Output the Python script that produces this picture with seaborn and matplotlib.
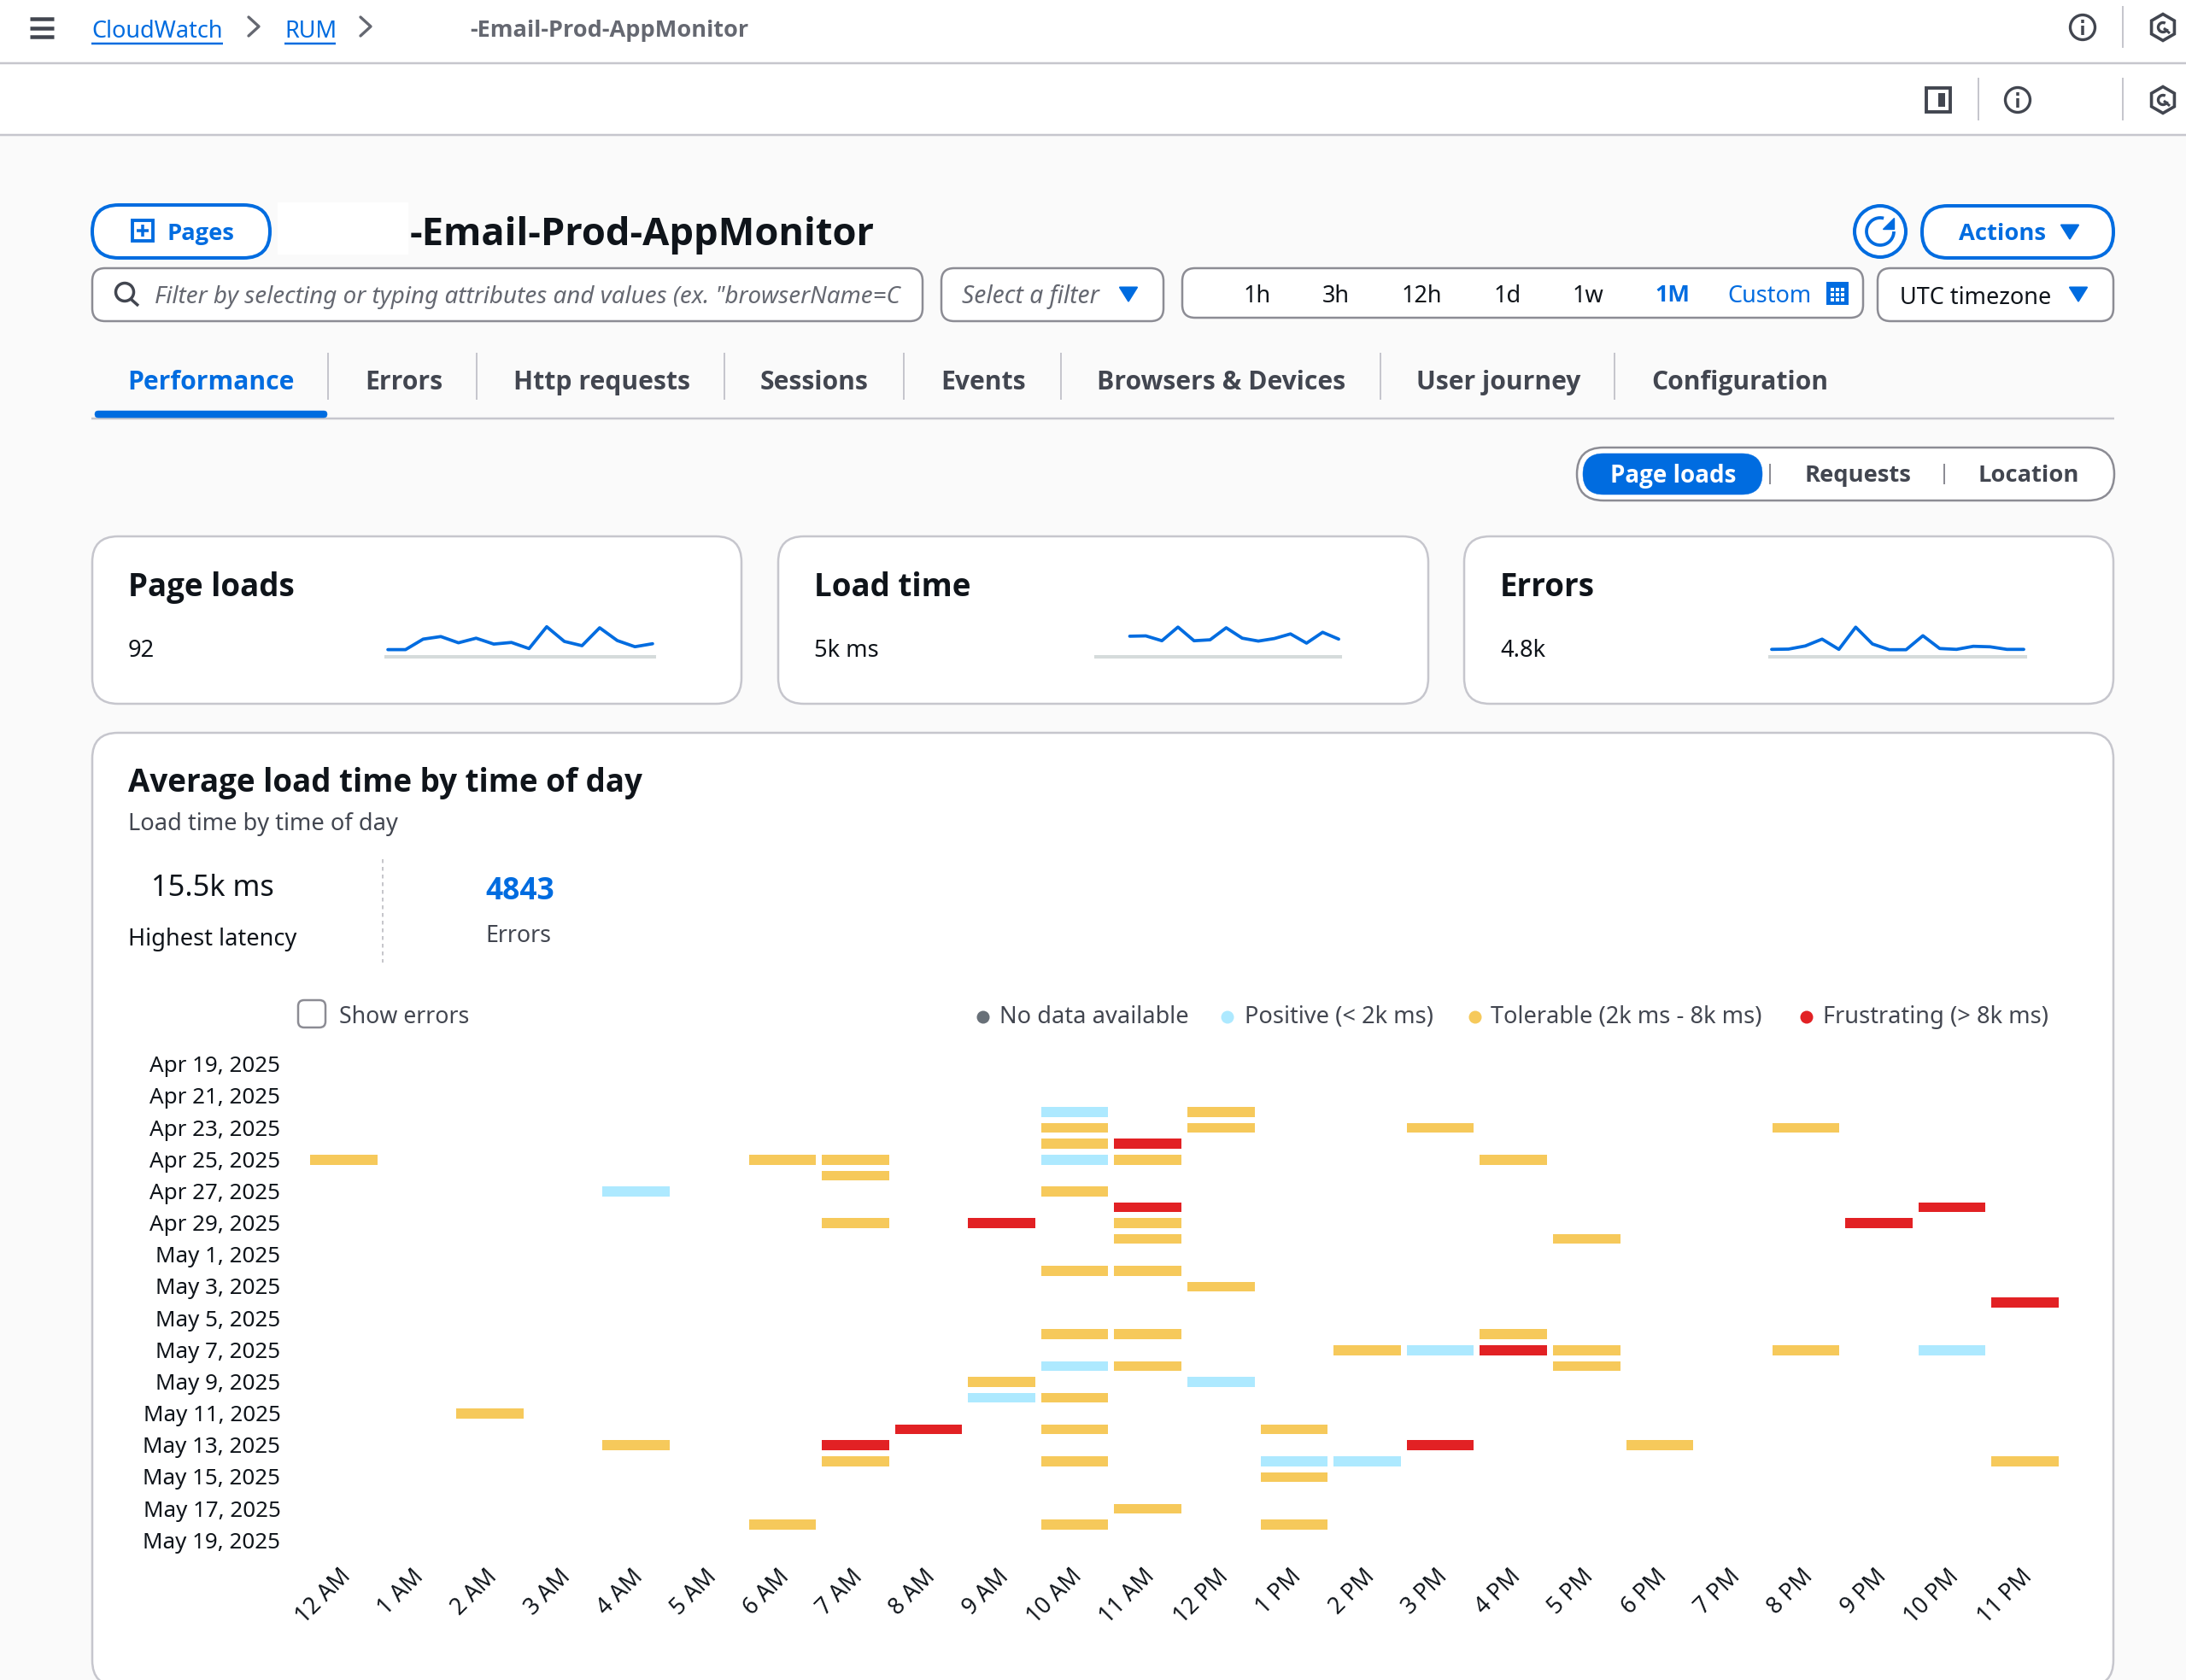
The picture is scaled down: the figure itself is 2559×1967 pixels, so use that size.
import numpy as np
import pandas as pd
import matplotlib
matplotlib.use("Agg")
import matplotlib.pyplot as plt
import seaborn as sns
from matplotlib.colors import ListedColormap
from matplotlib.patches import Circle, FancyBboxPatch, Polygon, Rectangle, RegularPolygon, Arc
from matplotlib.transforms import ScaledTranslation

# -----------------------------------------------------------
# data
# -----------------------------------------------------------
hours = ["12 AM", "1 AM", "2 AM", "3 AM", "4 AM", "5 AM", "6 AM", "7 AM", "8 AM", "9 AM", "10 AM", "11 AM",
         "12 PM", "1 PM", "2 PM", "3 PM", "4 PM", "5 PM", "6 PM", "7 PM", "8 PM", "9 PM", "10 PM", "11 PM"]
days = [f"{d:%b} {d.day}" for d in pd.date_range("2025-04-19", "2025-05-19")]

positive = [("Apr 22", "10 AM"), ("Apr 25", "10 AM"), ("Apr 27", "4 AM"), ("May 7", "3 PM"), ("May 7", "10 PM"),
            ("May 8", "10 AM"), ("May 9", "12 PM"), ("May 10", "9 AM"), ("May 14", "1 PM"), ("May 14", "2 PM")]
tolerable = [("Apr 22", "12 PM"), ("Apr 23", "10 AM"), ("Apr 23", "12 PM"), ("Apr 23", "3 PM"), ("Apr 23", "8 PM"),
             ("Apr 24", "10 AM"), ("Apr 25", "12 AM"), ("Apr 25", "6 AM"), ("Apr 25", "7 AM"), ("Apr 25", "11 AM"),
             ("Apr 25", "4 PM"), ("Apr 26", "7 AM"), ("Apr 27", "10 AM"), ("Apr 29", "7 AM"), ("Apr 29", "11 AM"),
             ("Apr 30", "11 AM"), ("Apr 30", "5 PM"), ("May 2", "10 AM"), ("May 2", "11 AM"), ("May 3", "12 PM"),
             ("May 6", "10 AM"), ("May 6", "11 AM"), ("May 6", "4 PM"), ("May 7", "2 PM"), ("May 7", "5 PM"),
             ("May 7", "8 PM"), ("May 8", "11 AM"), ("May 8", "5 PM"), ("May 9", "9 AM"), ("May 10", "10 AM"),
             ("May 11", "2 AM"), ("May 12", "10 AM"), ("May 12", "1 PM"), ("May 13", "4 AM"), ("May 13", "6 PM"),
             ("May 14", "7 AM"), ("May 14", "10 AM"), ("May 14", "11 PM"), ("May 15", "1 PM"), ("May 17", "11 AM"),
             ("May 18", "6 AM"), ("May 18", "10 AM"), ("May 18", "1 PM")]
frustrating = [("Apr 24", "11 AM"), ("Apr 28", "11 AM"), ("Apr 28", "10 PM"), ("Apr 29", "9 AM"), ("Apr 29", "9 PM"),
               ("May 4", "11 PM"), ("May 7", "4 PM"), ("May 12", "8 AM"), ("May 13", "7 AM"), ("May 13", "3 PM")]

page_loads_trend = [8.4, 8.4, 20.7, 23.7, 16.4, 21.8, 14.9, 16.8, 9.6, 35.2, 18.0, 13.0, 34.0, 19.0, 11.8, 15.3]
load_time_trend = [np.nan, np.nan, 24.1, 24.5, 18.8, 34.8, 18.8, 19.9, 34.0, 21.8, 18.4, 21.4, 26.8, 16.0, 28.7, 20.7]
errors_trend = [8.7, 9.0, 12.7, 20.7, 8.7, 34.7, 15.0, 8.3, 8.3, 24.7, 9.7, 8.7, 12.3, 11.7, 8.7, 8.7]

legend_names = ["No data available", "Positive (< 2k ms)", "Tolerable (2k ms - 8k ms)", "Frustrating (> 8k ms)"]
legend_colors = ["#687078", "#ade9ff", "#f6c95b", "#e22124"]

tab_names = ["Performance", "Errors", "Http requests", "Sessions", "Events", "Browsers & Devices", "User journey", "Configuration"]
range_names = ["1h", "3h", "12h", "1d", "1w"]

# -----------------------------------------------------------
# figure + full page overlay in pixel units
# -----------------------------------------------------------
W, H = 2559, 1967
BLUE = "#006ce0"
DARK = "#0f141a"
GREY = "#424650"
LINE = "#c6c6cd"
BOX = "#8c8c94"

sns.set_theme(style="white")
plt.rcParams["font.family"] = ["Noto Sans", "DejaVu Sans"]

fig = plt.figure(figsize=(W / 100, H / 100), dpi=100, facecolor="#fafafa")
ui = fig.add_axes([0, 0, 1, 1])
ui.set_xlim(0, W)
ui.set_ylim(H, 0)
ui.axis("off")


def label(x, y, s, size=19.6, color=DARK, weight="normal", ha="left", style="normal"):
    # Noto Sans has no bold face here, Open Sans does
    family = ["Open Sans", "DejaVu Sans"] if weight == "bold" else ["Noto Sans", "DejaVu Sans"]
    ui.text(x, y, s, fontsize=size, color=color, fontweight=weight, ha=ha, va="center_baseline",
            fontstyle=style, family=family)


def box(x0, y0, x1, y1, r, edge=BOX, lw=2.5, face="white", z=1):
    ui.add_patch(FancyBboxPatch((x0 + r, y0 + r), x1 - x0 - 2 * r, y1 - y0 - 2 * r,
                                boxstyle=f"round,pad={r},rounding_size={r}",
                                fc=face, ec=edge, lw=lw * 0.72, zorder=z))


def rule(x0, y0, x1, y1, color=LINE, lw=2.5, ls="-"):
    ui.plot([x0, x1], [y0, y1], color=color, lw=lw * 0.72, ls=ls, solid_capstyle="butt", zorder=2)


def arrow(x, y, size=10, color=BLUE):
    ui.add_patch(Polygon([(x - size, y - size * 0.75), (x + size, y - size * 0.75), (x, y + size * 0.85)],
                         fc=color, ec=color, lw=1.5, joinstyle="round", zorder=3))


def info_icon(x, y):
    ui.add_patch(Circle((x, y), 14.5, fc="none", ec=GREY, lw=2.4, zorder=3))
    rule(x, y - 2, x, y + 9, color=GREY, lw=3.5)
    rule(x, y - 9, x, y - 5, color=GREY, lw=3.5)


def hex_icon(x, y):
    ui.add_patch(RegularPolygon((x, y), 6, radius=15.5, fc="none", ec=GREY, lw=2.6, zorder=3))
    ui.add_patch(Arc((x, y), 11, 11, theta1=20, theta2=300, ec=GREY, lw=2.4, zorder=3))
    rule(x + 1, y + 1, x + 8, y + 7, color=GREY, lw=3)


# page bands
ui.add_patch(Rectangle((0, 0), W, 158, fc="white", ec="none", zorder=0))
rule(0, 74, W, 74)
rule(0, 158, W, 158)

# breadcrumb row
for yy in (22.5, 33, 43.5):
    rule(35, yy, 63, yy, color=GREY, lw=4.5)
label(107, 33, "CloudWatch", 19.5, BLUE)
rule(107, 51, 261, 51, color=BLUE, lw=2.5)
label(333, 33, "RUM", 19.5, BLUE)
rule(333, 51, 393, 51, color=BLUE, lw=2.5)
for xx in (297, 428):
    ui.plot([xx - 6, xx + 6, xx - 6], [20, 31, 42], color="#656871", lw=2.4, zorder=2)
label(550, 33, "-Email-Prod-AppMonitor", 19.5, "#656871", "bold")
info_icon(2438, 32)
rule(2485, 7, 2485, 56, lw=2)
hex_icon(2532, 32)

# second header row
ui.add_patch(Rectangle((2255, 103), 28, 28, fc="none", ec=GREY, lw=2.8, zorder=3))
ui.add_patch(Rectangle((2269, 109), 8, 16, fc=GREY, ec="none", zorder=3))
rule(2316, 91, 2316, 141, lw=2)
info_icon(2362, 117)
rule(2485, 91, 2485, 141, lw=2)
hex_icon(2532, 117)

# title row
box(108, 240, 316, 302, 31, edge=BLUE, lw=4, face="white")
ui.add_patch(Rectangle((155, 258), 24, 24, fc="none", ec=BLUE, lw=2.8, zorder=3))
rule(167, 263, 167, 277, color=BLUE, lw=3.5)
rule(160, 270, 174, 270, color=BLUE, lw=3.5)
label(195, 271, "Pages", 19.7, BLUE, "bold")
ui.add_patch(Rectangle((325, 237), 153, 61, fc="white", ec="none", zorder=1))
label(480, 270, "-Email-Prod-AppMonitor", 32.6, DARK, "bold")
ui.add_patch(Circle((2201, 271), 30, fc="white", ec=BLUE, lw=2.9, zorder=2))
ui.add_patch(Arc((2201, 271), 32, 32, theta1=0, theta2=285, ec=BLUE, lw=2.7, zorder=3))
ui.add_patch(Polygon([(2217, 255), (2217, 268), (2204, 268)], fc=BLUE, ec=BLUE, zorder=3))
box(2250, 241, 2474, 302, 30, edge=BLUE, lw=4, face="white")
label(2293, 271, "Actions", 19.7, BLUE, "bold")
arrow(2423, 271)

# filter row
box(108, 314, 1080, 376, 15)
ui.add_patch(Circle((146, 342), 10.5, fc="none", ec=GREY, lw=2.5, zorder=3))
rule(153, 350, 162, 358, color=GREY, lw=3.5)
label(181, 344, 'Filter by selecting or typing attributes and values (ex. "browserName=C', 20, "#656871", style="italic")
box(1102, 314, 1362, 376, 15)
label(1126, 344, "Select a filter", 20.3, "#656871", style="italic")
arrow(1321, 344)
box(1384, 314, 2181, 372, 15)
for nm, xx in zip(range_names, [1472, 1564, 1664, 1765, 1859]):
    label(xx, 343, nm, 19.5, DARK, ha="center")
label(1958, 343, "1M", 19.5, BLUE, "bold", ha="center")
label(2071, 344, "Custom", 19.5, BLUE, ha="center")
ui.add_patch(Rectangle((2138, 330), 26, 27, fc=BLUE, ec="none", zorder=3))
for cx in (2143, 2149, 2155):
    for cy in (337, 343, 349):
        ui.add_patch(Rectangle((cx, cy), 4, 4, fc="white", ec="none", zorder=4))
box(2198, 314, 2474, 376, 15)
label(2224, 345, "UTC timezone", 19.5, DARK)
arrow(2433, 344)

# tabs
tab_x = [149, 427, 601, 890, 1101, 1284, 1658, 1933]
for i, (nm, xx) in enumerate(zip(tab_names, tab_x)):
    label(xx, 444, nm, 21.7, BLUE if i == 0 else GREY, "bold")
for xx in (384, 558, 848, 1058, 1242, 1616, 1890):
    rule(xx, 413, xx, 468, lw=2)
rule(107, 490, 2475, 490)
box(111, 481, 383, 489, 4, edge=BLUE, lw=0.5, face=BLUE, z=3)

# segmented control
box(1846, 524, 2475, 586, 31, face="white")
box(1853, 531, 2063, 579, 24, edge=BLUE, lw=0.5, face=BLUE, z=2)
label(1959, 554, "Page loads", 20, "white", "bold", ha="center")
label(2175, 554, "Requests", 19.7, GREY, "bold", ha="center")
label(2375, 554, "Location", 19.7, GREY, "bold", ha="center")
rule(2072, 543, 2072, 567, color=BOX, lw=2)
rule(2276, 543, 2276, 567, color=BOX, lw=2)

# summary cards
cards = [(108, 868, "Page loads", "92"), (911, 1672, "Load time", "5k ms"), (1714, 2474, "Errors", "4.8k")]
for x0, x1, nm, val in cards:
    box(x0, 628, x1, 824, 30, edge=LINE)
    label(x0 + 42, 683, nm, 26.5, DARK, "bold")
    label(x0 + 42, 758, val)

# main card runs past the bottom of the screenshot
box(108, 858, 2474, 1974, 30, edge=LINE)
label(150, 912.5, "Average load time by time of day", 26.5, DARK, "bold")
label(150, 961, "Load time by time of day", color=GREY)
label(177, 1036, "15.5k ms", 24.7)
label(150, 1096, "Highest latency")
rule(448, 1006, 448, 1127, color="#b4b4bb", lw=1.5, ls=(0, (3, 3)))
label(568, 1039.5, "4843", 25.5, BLUE, "bold")
label(568, 1092, "Errors", 19.3, GREY)
box(349, 1171, 381, 1203, 7)
label(397, 1187, "Show errors", 19.2, GREY)

# legend
legend_dots = [1151, 1437, 1727, 2115]
legend_text = [1170, 1457, 1745, 2134]
for nm, col, dx, tx in zip(legend_names, legend_colors, legend_dots, legend_text):
    ui.add_patch(Circle((dx, 1191), 7.5, fc=col, ec="none", zorder=3))
    label(tx, 1187, nm, color=GREY)

# -----------------------------------------------------------
# sparklines
# -----------------------------------------------------------
spark_boxes = [(452, 766), (1283, 1569), (2072, 2371)]
for (x0, x1), trend in zip(spark_boxes, [page_loads_trend, load_time_trend, errors_trend]):
    ax = fig.add_axes([x0 / W, 1 - 769 / H, (x1 - x0) / W, 50 / H])
    ax.patch.set_alpha(0)
    sns.lineplot(x=np.arange(len(trend)), y=trend, color=BLUE, linewidth=2.7, ax=ax)
    ax.set_xlim(-0.1, len(trend) - 0.9)
    ax.set_ylim(0, 50)
    ax.set_xticks([])
    ax.set_yticks([])
    sns.despine(ax=ax, left=True)
    ax.spines["bottom"].set_color("#d5dbdb")
    ax.spines["bottom"].set_linewidth(2.9)

# -----------------------------------------------------------
# heatmap
# -----------------------------------------------------------
grid = pd.DataFrame(np.nan, index=days, columns=hours)
for code, cells in enumerate([positive, tolerable, frustrating], start=1):
    for day, hour in cells:
        grid.loc[day, hour] = code

hm = fig.add_axes([359 / W, 1 - 1812.5 / H, (2413 - 359) / W, (1812.5 - 1236.5) / H])
hm.patch.set_alpha(0)
sns.heatmap(grid, ax=hm, cmap=ListedColormap(legend_colors[1:]), vmin=0.5, vmax=3.5, cbar=False,
            linewidths=3.8, linecolor="white", yticklabels=2, xticklabels=True)
hm.set_xlabel("")
hm.set_ylabel("")
hm.set_yticklabels([t.get_text() + ", 2025" for t in hm.get_yticklabels()], rotation=0, fontsize=18.7, color=DARK,
                   va="center_baseline")
hm.set_xticklabels(hours, rotation=45, ha="right", rotation_mode="anchor", fontsize=19.2, color=DARK)
hm.tick_params(axis="y", length=0, pad=22)
hm.tick_params(axis="x", length=0, pad=14)
# hour labels sit a little left of the cell centres
for t in hm.get_xticklabels():
    t.set_transform(t.get_transform() + ScaledTranslation(-5 / 100, 0, fig.dpi_scale_trans))

fig.savefig("out.png", dpi=100, facecolor=fig.get_facecolor())
